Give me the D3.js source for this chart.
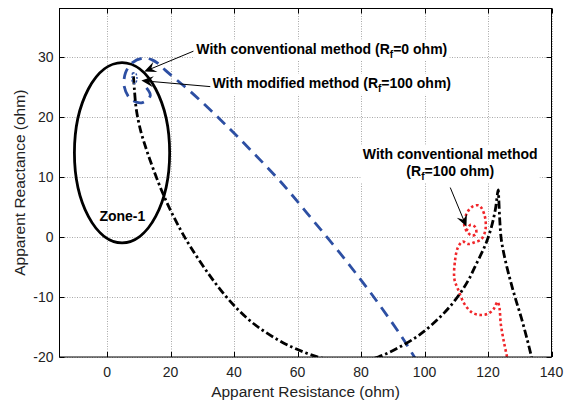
<!DOCTYPE html>
<html>
<head>
<meta charset="utf-8">
<script src="https://cdn.jsdelivr.net/npm/d3@7"></script>
<style>
  body { margin: 0; background: #fff; }
  svg { display: block; font-family: "Liberation Sans", Arial, sans-serif; }
</style>
</head>
<body>
<svg id="chart" width="568" height="403"></svg>
<script>
// Axis ticks
const xTicks = [0, 20, 40, 60, 80, 100, 120, 140];
const yTicks = [-20, -10, 0, 10, 20, 30];

// Zone-1 mho circle (centre R, centre X, radius)
const zoneCenter = [4.7, 14];
const zoneRadius = 15;

// Black dash-dot locus
const blackLocus = [
  [8.3, 26.7], [8.6, 24.5], [9.2, 21.2], [10.5, 17.8], [12.4, 14.5], [14.6, 11.2],
  [17.1, 7.8], [19.9, 4.5], [23.1, 1.2], [26.2, -1.6], [31.6, -5.9], [37.9, -10.2],
  [45.1, -14.0], [54.0, -17.2], [62.5, -19.3], [70.3, -20.5], [78.2, -21.0],
  [85.4, -20.0], [92.3, -18.3], [98.7, -16.2], [105.0, -13.3], [109.7, -10.5],
  [113.5, -7.5], [116.6, -4.2], [119.2, -1.3], [121.0, 1.5], [122.3, 4.5], [123.2, 7.8],
  [123.4, 6.2], [123.7, 2.8], [124.2, -0.5], [125.4, -3.8], [127.0, -7.2],
  [128.6, -10.2], [130.5, -13.5], [132.4, -17.2], [133.7, -20.0], [134.3, -21.3]
];

// Blue dashed locus
const blueLocus = [
  [12.4, 24.8], [13.6, 23.5], [10.8, 22.3], [7.3, 23.0], [5.4, 25.0], [5.8, 27.3],
  [8.0, 29.0], [11.1, 29.7], [14.0, 29.5], [16.2, 28.8], [18.4, 27.7], [21.5, 26.3],
  [26.2, 24.2], [35.7, 19.5], [45.1, 14.5], [54.6, 9.2], [64.0, 3.3], [73.5, -2.8],
  [83.0, -9.3], [92.4, -16.3], [96.8, -20.0], [98.7, -21.7]
];

// Small loop at the fault point
const faultLoop = [
  [8.0, 27.3], [9.0, 27.2], [9.4, 26.3], [8.8, 25.5], [8.0, 25.8], [7.9, 26.7], [8.0, 27.3]
];

// Red dotted locus
const redLocus = [
  [113.2, 1.0], [114.5, 2.0], [116.0, 1.6], [116.2, 0.5], [115.0, 0.2], [113.5, 0.8],
  [112.5, 2.0], [113.2, 3.8], [115.0, 5.0], [117.2, 5.2], [118.9, 3.6], [119.2, 1.2],
  [117.9, -0.4], [115.8, -0.9], [113.8, -1.2], [112.0, -0.8], [110.5, -1.8], [109.6, -4.0],
  [109.4, -7.0], [110.6, -8.8], [112.6, -11.2], [115.0, -12.6], [117.6, -13.0],
  [120.0, -12.8], [121.8, -12.0], [123.0, -10.8], [123.6, -11.8], [124.0, -14.4],
  [124.9, -17.2], [126.0, -20], [126.4, -21]
];

// Annotations: text anchor and arrow (tail -> tip), in data units
const notes = [
  {lines: [["With conventional method (R", "f", "=0 ohm)"]], at: [28.1, 30.5], anchor: "start",
   tail: [27.2, 30.9], tip: [11.7, 27.5]},
  {lines: [["With modified method (R", "f", "=100 ohm)"]], at: [33.2, 24.8], anchor: "start",
   tail: [32.5, 25.0], tip: [10.8, 26.0]},
  {lines: [["With conventional method"], ["(R", "f", "=100 ohm)"]], at: [108.1, 13.0], anchor: "middle",
   tail: [108.1, 8.2], tip: [113.2, 1.7]}
];

const width = 568, height = 403;
const margin = {top: 8.5, right: 16.5, bottom: 46, left: 59.5};

const svg = d3.select("#chart");

const x = d3.scaleLinear().domain([-15, 140]).range([margin.left, width - margin.right]);
const y = d3.scaleLinear().domain([-20, 38]).range([height - margin.bottom, margin.top]);

const plotW = x.range()[1] - x.range()[0];
const plotH = y.range()[0] - y.range()[1];

// Grid
const grid = svg.append("g").attr("stroke", "#a8a8a8").attr("stroke-width", 1)
  .attr("stroke-dasharray", "1,1.5");
grid.selectAll(".gx").data(xTicks).join("line")
  .attr("x1", d => Math.round(x(d)) + 0.5).attr("x2", d => Math.round(x(d)) + 0.5)
  .attr("y1", y.range()[1]).attr("y2", y.range()[0]);
grid.selectAll(".gy").data(yTicks).join("line")
  .attr("y1", d => Math.round(y(d)) + 0.5).attr("y2", d => Math.round(y(d)) + 0.5)
  .attr("x1", x.range()[0]).attr("x2", x.range()[1]);

// Clip
svg.append("defs").append("clipPath").attr("id", "plot-clip")
  .append("rect").attr("x", x.range()[0]).attr("y", y.range()[1])
  .attr("width", plotW).attr("height", plotH);

const plot = svg.append("g").attr("clip-path", "url(#plot-clip)");

const line = d3.line().x(d => x(d[0])).y(d => y(d[1])).curve(d3.curveCatmullRom.alpha(0.5));

// Zone-1 circle
plot.append("ellipse")
  .attr("cx", x(zoneCenter[0])).attr("cy", y(zoneCenter[1]))
  .attr("rx", x(zoneCenter[0] + zoneRadius) - x(zoneCenter[0]))
  .attr("ry", y(zoneCenter[1]) - y(zoneCenter[1] + zoneRadius))
  .attr("fill", "none").attr("stroke", "#000").attr("stroke-width", 2.8);

plot.append("path").attr("d", line(blueLocus))
  .attr("fill", "none").attr("stroke", "#2d4fa3").attr("stroke-width", 2.8)
  .attr("stroke-dasharray", "11,7");

plot.append("path").attr("d", line(redLocus))
  .attr("fill", "none").attr("stroke", "#f0262a").attr("stroke-width", 2.6)
  .attr("stroke-dasharray", "2.6,2.6");

plot.append("path").attr("d", line(blackLocus))
  .attr("fill", "none").attr("stroke", "#000").attr("stroke-width", 2.8)
  .attr("stroke-dasharray", "8,3,2.5,3");

plot.append("path").attr("d", line(faultLoop))
  .attr("fill", "none").attr("stroke", "#2d4fa3").attr("stroke-width", 1.5)
  .attr("stroke-dasharray", "2,1.5");

// Annotation texts with white background
const noteG = svg.append("g");
notes.forEach(n => {
  const g = noteG.append("g");
  const t = g.append("text")
    .attr("x", x(n.at[0])).attr("y", y(n.at[1]))
    .attr("text-anchor", n.anchor)
    .attr("font-size", 14).attr("font-weight", "bold").attr("fill", "#000");
  n.lines.forEach((parts, li) => {
    parts.forEach((p, pi) => {
      const ts = t.append("tspan").text(p);
      if (pi === 0) ts.attr("x", x(n.at[0])).attr("dy", li === 0 ? 0 : 17);
      if (pi === 1) ts.attr("font-size", 10).attr("dy", 4);
      if (pi === 2) ts.attr("dy", -4);
    });
  });
  const bb = t.node().getBBox();
  g.insert("rect", "text")
    .attr("x", bb.x - 2).attr("y", bb.y - 1)
    .attr("width", bb.width + 4).attr("height", bb.height + 2)
    .attr("fill", "#fff");

  // arrow
  const x1 = x(n.tail[0]), y1 = y(n.tail[1]), x2 = x(n.tip[0]), y2 = y(n.tip[1]);
  const ang = Math.atan2(y2 - y1, x2 - x1);
  svg.append("line").attr("x1", x1).attr("y1", y1).attr("x2", x2 - 6 * Math.cos(ang)).attr("y2", y2 - 6 * Math.sin(ang))
    .attr("stroke", "#000").attr("stroke-width", 1);
  const L = 12, W = 5.5, N = 7.5;
  const pts = [
    [0, 0], [-L, -W], [-N, 0], [-L, W]
  ].map(([u, v]) => [x2 + u * Math.cos(ang) - v * Math.sin(ang), y2 + u * Math.sin(ang) + v * Math.cos(ang)]);
  svg.append("path").attr("d", "M" + pts.join("L") + "Z").attr("fill", "#000");
});

svg.append("text")
  .attr("x", x(4.8)).attr("y", y(2.7))
  .attr("text-anchor", "middle").attr("font-size", 14).attr("font-weight", "bold")
  .text("Zone-1");

// Axes box and ticks (inside, all four sides)
const axes = svg.append("g").attr("stroke", "#000").attr("stroke-width", 1);
axes.append("rect").attr("x", x.range()[0]).attr("y", y.range()[1])
  .attr("width", plotW).attr("height", plotH).attr("fill", "none");

const tl = 5;
xTicks.forEach(d => {
  const px = Math.round(x(d)) + 0.5;
  axes.append("line").attr("x1", px).attr("x2", px).attr("y1", y.range()[0]).attr("y2", y.range()[0] - tl);
  axes.append("line").attr("x1", px).attr("x2", px).attr("y1", y.range()[1]).attr("y2", y.range()[1] + tl);
});
yTicks.forEach(d => {
  const py = Math.round(y(d)) + 0.5;
  axes.append("line").attr("y1", py).attr("y2", py).attr("x1", x.range()[0]).attr("x2", x.range()[0] + tl);
  axes.append("line").attr("y1", py).attr("y2", py).attr("x1", x.range()[1]).attr("x2", x.range()[1] - tl);
});

const labels = svg.append("g").attr("font-size", 14).attr("fill", "#222");
labels.selectAll(".xt").data(xTicks).join("text")
  .attr("x", d => x(d)).attr("y", y.range()[0] + 20)
  .attr("text-anchor", "middle").text(d => d);
labels.selectAll(".yt").data(yTicks).join("text")
  .attr("x", x.range()[0] - 6).attr("y", d => y(d) + 5)
  .attr("text-anchor", "end").text(d => d);

svg.append("text")
  .attr("x", (x.range()[0] + x.range()[1]) / 2).attr("y", y.range()[0] + 40)
  .attr("text-anchor", "middle").attr("font-size", 15.5).attr("fill", "#222")
  .text("Apparent Resistance (ohm)");

svg.append("text")
  .attr("transform", `translate(${x.range()[0] - 34.5},${(y.range()[0] + y.range()[1]) / 2}) rotate(-90)`)
  .attr("text-anchor", "middle").attr("font-size", 15.5).attr("fill", "#222")
  .text("Apparent Reactance (ohm)");
</script>
</body>
</html>
